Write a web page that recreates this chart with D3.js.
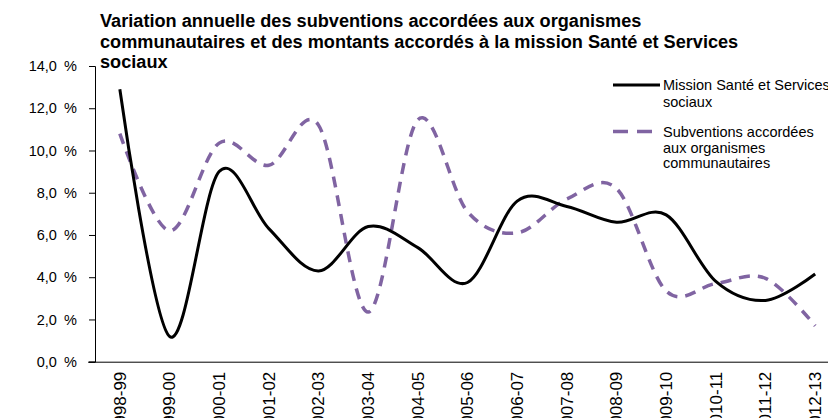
<!DOCTYPE html>
<html>
<head>
<meta charset="utf-8">
<script src="https://cdn.jsdelivr.net/npm/d3@7"></script>
<style>
  body { margin: 0; background: #fff; }
  svg { display: block; font-family: "Liberation Sans", Arial, sans-serif; }
</style>
</head>
<body>
<div id="chart"></div>
<script>
const years = ["1998-99", "1999-00", "2000-01", "2001-02", "2002-03", "2003-04", "2004-05", "2005-06",
  "2006-07", "2007-08", "2008-09", "2009-10", "2010-11", "2011-12", "2012-13"];
const mission = [12.9, 1.2, 9.0, 6.3, 4.3, 6.4, 5.4, 3.75, 7.6, 7.35, 6.6, 6.95, 3.8, 2.9, 4.15];
const subventions = [10.8, 6.2, 10.35, 9.3, 11.2, 2.35, 11.45, 7.1, 6.1, 7.7, 8.2, 3.35, 3.7, 3.95, 1.7];
const yTicks = [0, 2, 4, 6, 8, 10, 12, 14];
const titleLines = ["Variation annuelle des subventions accordées aux organismes",
  "communautaires et des montants accordés à la mission Santé et Services",
  "sociaux"];
const legendMission = ["Mission Santé et Services", "sociaux"];
const legendSubv = ["Subventions accordées", "aux organismes", "communautaires"];

const W = 828, H = 418;
const svg = d3.select("#chart").append("svg")
  .attr("width", W)
  .attr("height", H);

const x = d3.scaleBand()
  .domain(years)
  .range([95, 840]);

const y = d3.scaleLinear()
  .domain([0, 14])
  .range([361.7, 66]);

const cx = d => x(d) + x.bandwidth() / 2;

// y axis
svg.append("g")
  .attr("transform", "translate(95,0)")
  .style("font-size", "14.5px")
  .call(d3.axisLeft(y)
    .tickValues(yTicks)
    .tickFormat(d => d3.format(".1f")(d).replace(".", ",") + "\u2002%")
    .tickSize(6)
    .tickPadding(12))
  .call(g => g.selectAll("path,line").attr("stroke", "#000"))
  .call(g => g.selectAll("text").attr("fill", "#000"));

// x axis
svg.append("g")
  .attr("transform", `translate(0,${y(0)})`)
  .style("font-size", "17px")
  .call(d3.axisBottom(x).tickSize(0).tickSizeOuter(0))
  .call(g => g.select(".domain").attr("d", `M88,0.5H${W}`).attr("stroke", "#000"))
  .selectAll("text")
  .attr("fill", "#000")
  .attr("transform", "rotate(-90)")
  .attr("text-anchor", "end")
  .attr("x", -10)
  .attr("y", 0)
  .attr("dy", "0.35em");

// lines
const line = d3.line()
  .x((d, i) => cx(years[i]))
  .y(d => y(d))
  .curve(d3.curveCatmullRom.alpha(0));

svg.append("path")
  .datum(subventions)
  .attr("fill", "none")
  .attr("stroke", "#8064a2")
  .attr("stroke-width", 3.5)
  .attr("stroke-dasharray", "11,8")
  .attr("d", line);

svg.append("path")
  .datum(mission)
  .attr("fill", "none")
  .attr("stroke", "#000")
  .attr("stroke-width", 3)
  .attr("d", line);

// title
svg.append("text")
  .attr("x", 100)
  .attr("y", 27)
  .style("font-size", "18.15px")
  .style("font-weight", "bold")
  .selectAll("tspan")
  .data(titleLines)
  .join("tspan")
  .attr("x", 100)
  .attr("dy", (d, i) => i === 0 ? 0 : 20.5)
  .text(d => d);

// legend
const lg = svg.append("g");
lg.append("line")
  .attr("x1", 613).attr("x2", 660)
  .attr("y1", 85).attr("y2", 85)
  .attr("stroke", "#000").attr("stroke-width", 3);
lg.append("text")
  .attr("y", 90)
  .style("font-size", "14.5px")
  .selectAll("tspan")
  .data(legendMission)
  .join("tspan")
  .attr("x", 663)
  .attr("dy", (d, i) => i === 0 ? 0 : 16.5)
  .text(d => d);

lg.append("line")
  .attr("x1", 613).attr("x2", 652)
  .attr("y1", 131.5).attr("y2", 131.5)
  .attr("stroke", "#8064a2").attr("stroke-width", 3.5)
  .attr("stroke-dasharray", "15,9");
lg.append("text")
  .attr("y", 137)
  .style("font-size", "14.5px")
  .selectAll("tspan")
  .data(legendSubv)
  .join("tspan")
  .attr("x", 663)
  .attr("dy", (d, i) => i === 0 ? 0 : 15.5)
  .text(d => d);
</script>
</body>
</html>
